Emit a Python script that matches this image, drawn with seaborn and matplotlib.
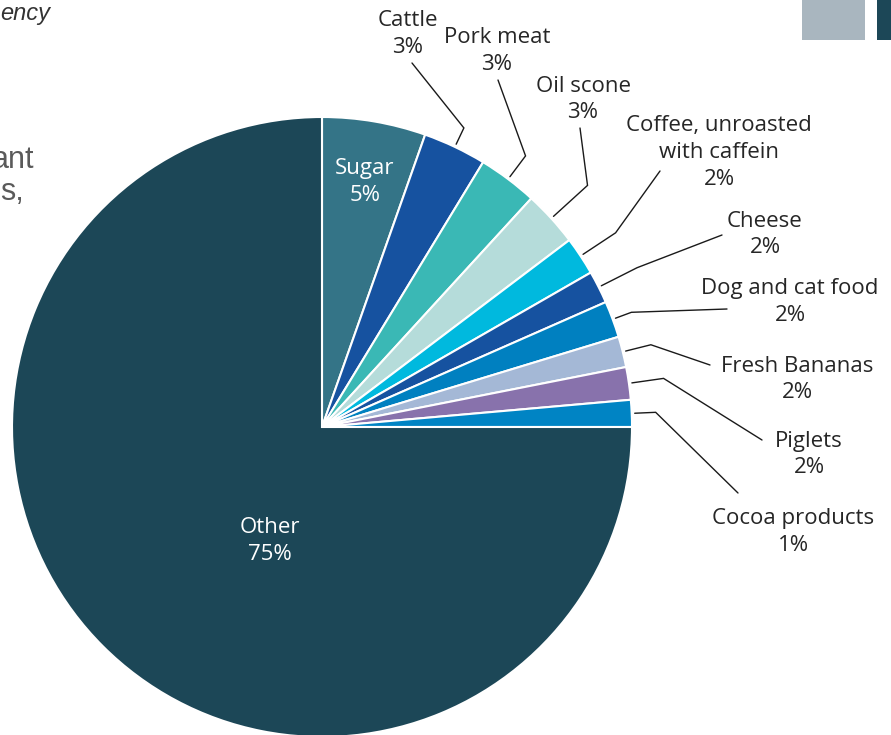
import numpy as np
import matplotlib
matplotlib.use("Agg")
import matplotlib.pyplot as plt
import seaborn as sns

# Import shares by product (percent of total)
products = ["Sugar", "Cattle", "Pork meat", "Oil scone",
            "Coffee, unroasted\nwith caffein", "Cheese", "Dog and cat food",
            "Fresh Bananas", "Piglets", "Cocoa products", "Other"]
shares = [5.4, 3.3, 3.1, 2.9, 2.0, 1.7, 1.9, 1.6, 1.7, 1.4, 75.0]
colors = ["#347487", "#1652A0", "#3AB8B5", "#B5DCDA", "#00B9DE", "#1652A0",
          "#0080C0", "#A4B8D6", "#8872AC", "#0084C4", "#1C4757"]

W, H = 891, 735
sns.set_theme(style="white")
plt.rcParams["font.family"] = ["Open Sans", "DejaVu Sans"]

fig = plt.figure(figsize=(W / 100, H / 100), dpi=100)
ax = fig.add_axes([0, 0, 1, 1])

def py(y):
    """Convert a top-down pixel row into the axes' y coordinate."""
    return H - y

cx, cy, R = 322, py(427), 310
palette = sns.color_palette(colors)
wedges, _ = ax.pie(shares, colors=palette, startangle=90, counterclock=False,
                   center=(cx, cy), radius=R,
                   wedgeprops=dict(edgecolor="white", linewidth=1.5))
ax.set_xlim(0, W)
ax.set_ylim(0, H)
ax.set_aspect("equal")
ax.axis("off")

label_color = "#262626"
fs = 16

# Labels drawn inside the two large wedges
inside = {"Sugar": (365, 182), "Other": (270, 541)}
# Outside labels: text centre and leader geometry (elbow radius, end point)
outside = {
    "Cattle": ((408, 34), 331, (412, 63)),
    "Pork meat": ((497, 51), 339, (498, 80)),
    "Oil scone": ((583, 99.5), 359, (580, 128)),
    "Coffee, unroasted\nwith caffein": ((719, 152.5), 352, (660, 171)),
    "Cheese": ((765, 234.5), 353, (722, 235)),
    "Dog and cat food": ((790, 302), 330, (727, 309)),
    "Fresh Bananas": ((797, 379.5), 339, (710, 365)),
    "Piglets": ((809, 454.5), 345, (762, 440)),
    "Cocoa products": ((793, 532), 334, (738, 493)),
}

cum = np.cumsum([0] + shares)
total = cum[-1]
for i, (name, val) in enumerate(zip(products, shares)):
    text = f"{name}\n{round(val):.0f}%"
    if name in inside:
        x, y = inside[name]
        ax.text(x, py(y), text, ha="center", va="center", color="white",
                fontsize=fs, linespacing=1.36)
        continue
    (tx, ty), r_elbow, (ex, ey) = outside[name]
    ax.text(tx, py(ty), text, ha="center", va="center", color=label_color,
            fontsize=fs, linespacing=1.36)
    mid = (cum[i] + val / 2) / total * 2 * np.pi  # clockwise from 12 o'clock
    sx, sy = cx + 313 * np.sin(mid), cy + 313 * np.cos(mid)
    bx, by = cx + r_elbow * np.sin(mid), cy + r_elbow * np.cos(mid)
    ax.plot([sx, bx, ex], [sy, by, py(ey)], color="#1a1a1a", lw=1.0,
            solid_joinstyle="miter")

# Surrounding page elements
ax.text(0, py(13), "ency", ha="left", va="center", fontsize=17,
        style="italic", color="#333333", family=["Liberation Sans", "DejaVu Sans"])
ax.text(34, py(160), "ant", ha="right", va="center", fontsize=22,
        color="#5a5a5a", family=["Liberation Sans", "DejaVu Sans"])
ax.text(24, py(192), "s,", ha="right", va="center", fontsize=22,
        color="#5a5a5a", family=["Liberation Sans", "DejaVu Sans"])
ax.add_patch(plt.Rectangle((802, py(40)), 63, 40, color="#A9B6BF", lw=0))
ax.add_patch(plt.Rectangle((877, py(40)), 20, 40, color="#1C4757", lw=0))

fig.savefig("out.png", dpi=100)
